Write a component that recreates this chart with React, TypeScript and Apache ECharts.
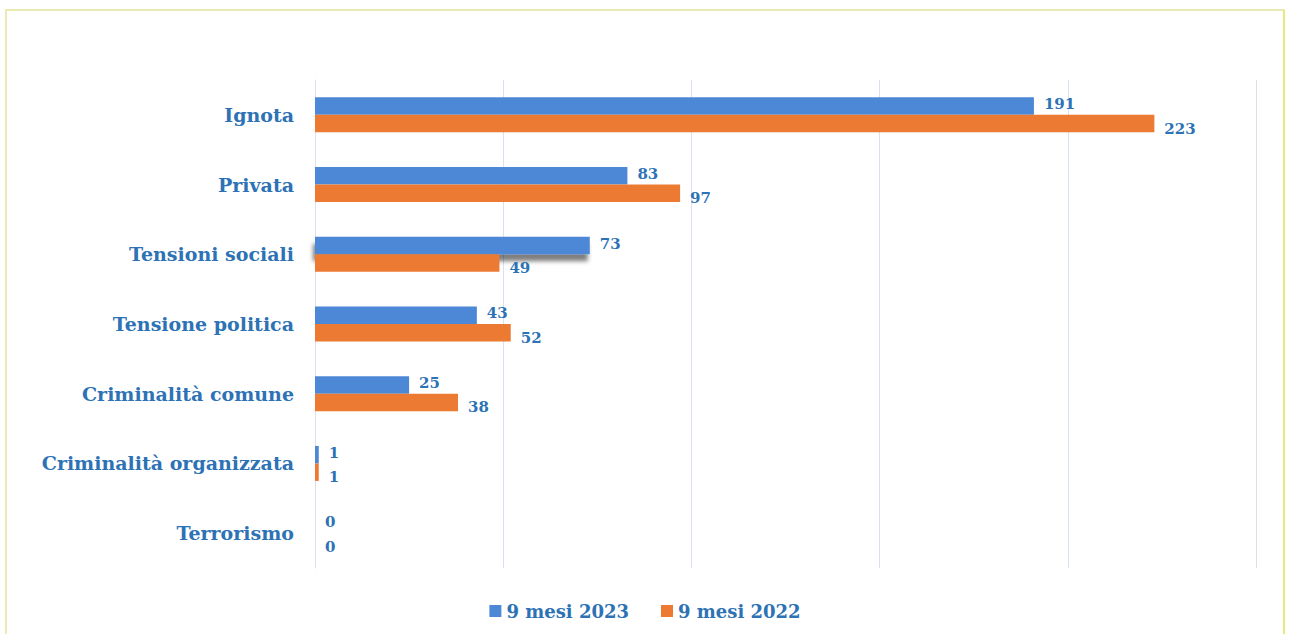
import React, { useEffect, useRef } from "react";
import * as echarts from "echarts";

const categories = [
  "Ignota",
  "Privata",
  "Tensioni sociali",
  "Tensione politica",
  "Criminalità comune",
  "Criminalità organizzata",
  "Terrorismo",
];
const series2023 = [191, 83, 73, 43, 25, 1, 0];
const series2022 = [223, 97, 49, 52, 38, 1, 0];
const seriesNames = ["9 mesi 2023", "9 mesi 2022"];

const TEXT = "#2C72B5";
const FONT = "'DejaVu Serif', 'Liberation Serif', serif";

export default function App() {
  const ref = useRef<HTMLDivElement>(null);
  useEffect(() => {
    if (!ref.current) return;
    const chart = echarts.init(ref.current, undefined, { renderer: "svg" });
    const labelStyle = {
      show: true,
      position: "right" as const,
      color: TEXT,
      fontFamily: FONT,
      fontWeight: "bold" as const,
      fontSize: 15,
      distance: 10,
    };
    chart.setOption({
      animation: false,
      backgroundColor: "#ffffff",
      textStyle: { fontFamily: FONT },
      graphic: [
        {
          type: "rect",
          shape: { x: 6, y: 10, width: 1278, height: 640 },
          style: { fill: "none", stroke: "#ebe9b4", lineWidth: 2 },
          silent: true,
        },
        {
          type: "line",
          shape: { x1: 1284, y1: 10, x2: 1284, y2: 634 },
          style: { stroke: "#e6ea7a", lineWidth: 2 },
          silent: true,
        },
      ],
      grid: { left: 315, right: 34, top: 80, bottom: 66 },
      legend: {
        data: seriesNames,
        left: "center",
        top: 597,
        itemWidth: 12,
        itemHeight: 12,
        itemGap: 32,
        icon: "rect",
        textStyle: {
          color: TEXT,
          fontFamily: FONT,
          fontWeight: "bold",
          fontSize: 18,
        },
      },
      xAxis: {
        type: "value",
        min: 0,
        max: 250,
        interval: 50,
        axisLabel: { show: false },
        axisLine: { show: false },
        axisTick: { show: false },
        splitLine: { show: true, lineStyle: { color: "#d9e1ec", width: 1 } },
      },
      yAxis: {
        type: "category",
        inverse: true,
        data: categories,
        axisLine: { show: true, lineStyle: { color: "#d9e1ec", width: 1 } },
        axisTick: { show: false },
        axisLabel: {
          color: TEXT,
          fontFamily: FONT,
          fontWeight: "bold",
          fontSize: 19,
          margin: 21,
        },
      },
      series: [
        {
          name: seriesNames[0],
          type: "bar",
          data: series2023.map((v, i) =>
            i === 2
              ? {
                  value: v,
                  itemStyle: {
                    shadowColor: "rgba(0,0,0,0.5)",
                    shadowBlur: 4,
                    shadowOffsetX: -2,
                    shadowOffsetY: 7,
                  },
                }
              : v
          ),
          barWidth: 17.5,
          barGap: "0%",
          itemStyle: { color: "#4D88D6" },
          label: { ...labelStyle, offset: [0, -2] },
        },
        {
          name: seriesNames[1],
          type: "bar",
          data: series2022,
          barWidth: 17.5,
          barGap: "0%",
          itemStyle: { color: "#EC7A32" },
          label: { ...labelStyle, offset: [0, 5] },
        },
      ],
    });
    return () => chart.dispose();
  }, []);
  return (
    <div
      ref={ref}
      style={{ position: "fixed", left: 0, top: 0, width: 1290, height: 634 }}
    />
  );
}
